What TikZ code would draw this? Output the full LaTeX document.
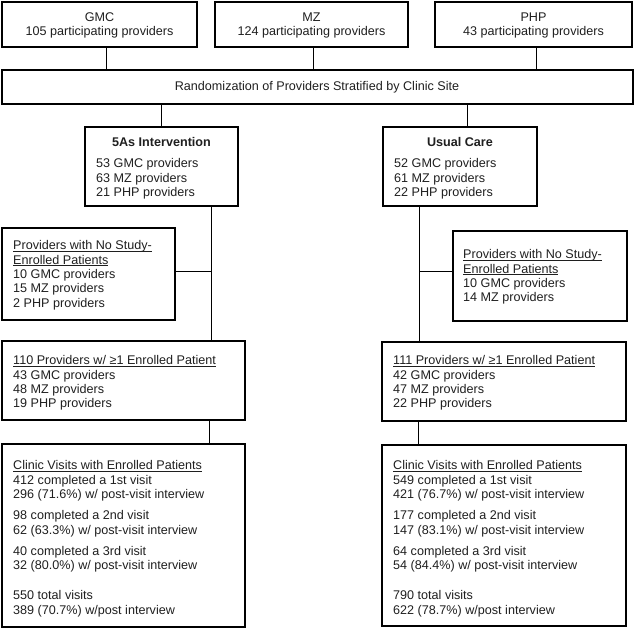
\documentclass[tikz,border=0pt]{standalone}
\usepackage{fontspec}
\setmainfont{Liberation Sans}
\usetikzlibrary{fit}
\newcommand\myul[1]{\setbox0\hbox{#1}\rlap{\rule[-2pt]{\wd0}{0.7pt}}\box0}
\begin{document}
\begin{tikzpicture}[x=1pt,y=-1pt,
  box/.style={draw, line width=2.4pt, inner sep=0pt},
  txt/.style={inner sep=0pt, font=\fontsize{12.6}{14.3}\selectfont, align=left, anchor=north west, text=black!88},
  ctxt/.style={inner sep=0pt, font=\fontsize{12.6}{14.8}\selectfont, align=center, text=black!88},
  conn/.style={line width=1pt}]
\useasboundingbox (0,0) rectangle (635,629);

% boxes
\node[box, fit={(2,2) (197,47)}] (gmc) {};
\node[box, fit={(215,2) (408,47)}] (mz) {};
\node[box, fit={(435,2) (632,47)}] (php) {};
\node[box, fit={(2,70) (633,104)}] (rand) {};
\node[box, fit={(85,127) (238,206)}] (five) {};
\node[box, fit={(383,127) (537,206)}] (usual) {};
\node[box, fit={(2,228) (175,320)}] (noa) {};
\node[box, fit={(453,231) (627,321)}] (nob) {};
\node[box, fit={(2,341) (245,420)}] (pa) {};
\node[box, fit={(382,342) (626,421)}] (pb) {};
\node[box, fit={(2,444) (245,627)}] (ca) {};
\node[box, fit={(382,445) (626,626)}] (cb) {};

% texts
\node[ctxt] (gmct) at (99.5,25.5) {GMC\\105 participating providers};
\node[ctxt] (mzt) at (311.5,25.5) {MZ\\124 participating providers};
\node[ctxt] (phpt) at (533.5,25.5) {PHP\\43 participating providers};
\node[ctxt] (randt) at (317,87.5) {Randomization of Providers Stratified by Clinic Site};
\node[ctxt, font=\fontsize{12.6}{14.8}\selectfont\bfseries] (fivet) at (161.5,142) {5As Intervention};
\node[ctxt, font=\fontsize{12.6}{14.8}\selectfont\bfseries] (usualt) at (460,142) {Usual Care};
\node[txt] (fivel) at (96,158.5) {53 GMC providers\\63 MZ providers\\21 PHP providers};
\node[txt] (usuall) at (394,158.5) {52 GMC providers\\61 MZ providers\\22 PHP providers};
\node[txt] (noat) at (13,240.5) {\myul{Providers with No Study-}\\\myul{Enrolled Patients}\\10 GMC providers\\15 MZ providers\\2 PHP providers};
\node[txt] (nobt) at (463,249.5) {\myul{Providers with No Study-}\\\myul{Enrolled Patients}\\10 GMC providers\\14 MZ providers};
\node[txt] (pat) at (13,355.5) {\myul{110 Providers w/ ≥1 Enrolled Patient}\\43 GMC providers\\48 MZ providers\\19 PHP providers};
\node[txt] (pbt) at (393,355.5) {\myul{111 Providers w/ ≥1 Enrolled Patient}\\42 GMC providers\\47 MZ providers\\22 PHP providers};
\node[txt] (cat) at (13,460.5) {\myul{Clinic Visits with Enrolled Patients}\\412 completed a 1st visit\\296 (71.6\%) w/ post-visit interview\\[7pt]98 completed a 2nd visit\\62 (63.3\%) w/ post-visit interview\\[7pt]40 completed a 3rd visit\\32 (80.0\%) w/ post-visit interview\\[16pt]550 total visits\\389 (70.7\%) w/post interview};
\node[txt] (cbt) at (393,460.5) {\myul{Clinic Visits with Enrolled Patients}\\549 completed a 1st visit\\421 (76.7\%) w/ post-visit interview\\[7pt]177 completed a 2nd visit\\147 (83.1\%) w/ post-visit interview\\[7pt]64 completed a 3rd visit\\54 (84.4\%) w/ post-visit interview\\[16pt]790 total visits\\622 (78.7\%) w/post interview};

% connectors
\draw[conn] ([xshift=7pt]gmc.south) -- ([xshift=7pt]gmc.south |- rand.north);
\draw[conn] ([xshift=1.5pt]mz.south) -- ([xshift=1.5pt]mz.south |- rand.north);
\draw[conn] ([xshift=2.5pt]php.south) -- ([xshift=2.5pt]php.south |- rand.north);
\draw[conn] (five.north) -- (five.north |- rand.south);
\draw[conn] ([xshift=7pt]usual.north) -- ([xshift=7pt]usual.north |- rand.south);
\coordinate (ja) at (211,271);
\coordinate (jb) at (419,271);
\draw[conn] (ja |- five.south) -- (ja |- pa.north);
\draw[conn] (noa.east |- ja) -- (ja);
\draw[conn] (jb |- usual.south) -- (jb |- pb.north);
\draw[conn] (jb) -- (nob.west |- jb);
\coordinate (ka) at (209,432);
\coordinate (kb) at (418,432);
\draw[conn] (ka |- pa.south) -- (ka |- ca.north);
\draw[conn] (kb |- pb.south) -- (kb |- cb.north);
\end{tikzpicture}
\end{document}
